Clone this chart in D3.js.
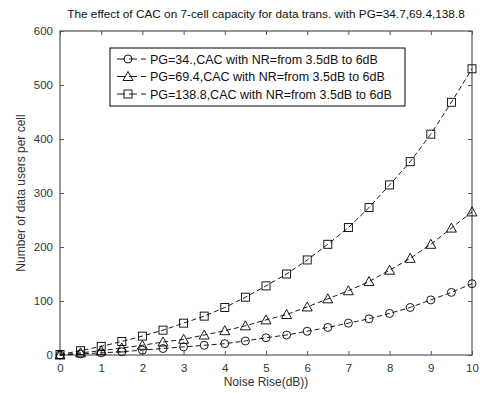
<!DOCTYPE html>
<html><head><meta charset="utf-8">
<script src="https://cdn.jsdelivr.net/npm/d3@7"></script>
<style>body{margin:0;background:#fff;} svg{display:block;} text{font-family:"Liberation Sans",Arial,sans-serif;}</style>
</head><body>
<svg id="c" width="480" height="393"></svg>
<script>
const noiseRise = [0,0.5,1,1.5,2,2.5,3,3.5,4,4.5,5,5.5,6,6.5,7,7.5,8,8.5,9,9.5,10];
const pg34 = [0,2,4,6,9,12,15,18,21,26,32,37,44,51,59,67,77,88,102,116,132];
const pg69 = [0,4,8,13,18,24,29,37,45,54,65,75,89,104,119,136,157,179,205,235,265];
const pg138 = [1,8,16,25,35,46,59,72,88,107,128,150,176,205,236,273,315,358,409,468,530];
const xTicks = [0,1,2,3,4,5,6,7,8,9,10];
const yTicks = [0,100,200,300,400,500,600];
const seriesNames = ["PG=34.,CAC with NR=from 3.5dB to 6dB","PG=69.4,CAC with NR=from 3.5dB to 6dB","PG=138.8,CAC with NR=from 3.5dB to 6dB"];
const markers = ["circle","triangle","square"];
const titleText = "The effect of CAC on 7-cell capacity for data trans. with PG=34.7,69.4,138.8";
const xLabel = "Noise Rise(dB))";
const yLabel = "Number of data users per cell";

const svg = d3.select("#c");
const L=60,R=472,T=31,B=355;
const x = d3.scaleLinear().domain([0,10]).range([L,R]);
const y = d3.scaleLinear().domain([0,600]).range([B,T]);
const axisCol = "#555";

// box
svg.append("rect").attr("x",L).attr("y",T).attr("width",R-L).attr("height",B-T)
  .attr("fill","none").attr("stroke",axisCol).attr("stroke-width",1.2);

// axes with inward ticks
const gx = svg.append("g").attr("transform",`translate(0,${B})`)
  .call(d3.axisBottom(x).tickValues(xTicks).tickSize(-4).tickPadding(9).tickFormat(d3.format("d")));
const gxt = svg.append("g").attr("transform",`translate(0,${T})`)
  .call(d3.axisTop(x).tickValues(xTicks).tickSize(-4).tickFormat(""));
const gy = svg.append("g").attr("transform",`translate(${L},0)`)
  .call(d3.axisLeft(y).tickValues(yTicks).tickSize(-4).tickPadding(7).tickFormat(d3.format("d")));
const gyr = svg.append("g").attr("transform",`translate(${R},0)`)
  .call(d3.axisRight(y).tickValues(yTicks).tickSize(-4).tickFormat(""));
[gx,gxt,gy,gyr].forEach(g=>{
  g.select(".domain").remove();
  g.selectAll("line").attr("stroke",axisCol);
  g.selectAll("text").attr("fill","#333").style("font-size","11.5px");
});

// series
const allSeries = [pg34,pg69,pg138];
const line = d3.line().x((d,i)=>x(noiseRise[i])).y(d=>y(d));
function drawMarker(g,type,cx,cy){
  if(type==="circle") g.append("circle").attr("cx",cx).attr("cy",cy).attr("r",4);
  else if(type==="triangle") g.append("path").attr("d",`M${cx},${cy-5}L${cx+5},${cy+4}L${cx-5},${cy+4}Z`);
  else g.append("rect").attr("x",cx-4).attr("y",cy-4).attr("width",8).attr("height",8);
}
allSeries.forEach((s,k)=>{
  svg.append("path").datum(s).attr("d",line).attr("fill","none").attr("stroke","#000")
    .attr("stroke-width",0.9).attr("stroke-dasharray","5,3");
  const g = svg.append("g").attr("fill","none").attr("stroke","#000").attr("stroke-width",0.9);
  s.forEach((v,i)=>drawMarker(g,markers[k],x(noiseRise[i]),y(v)));
});

// legend
const lg = svg.append("g");
lg.append("rect").attr("x",110).attr("y",48).attr("width",295).attr("height",58)
  .attr("fill","#fff").attr("stroke","#000").attr("stroke-width",1);
seriesNames.forEach((n,k)=>{
  const yy = 59 + k*17.5;
  lg.append("line").attr("x1",117).attr("x2",146).attr("y1",yy).attr("y2",yy)
    .attr("stroke","#000").attr("stroke-width",0.9).attr("stroke-dasharray","8,4");
  const mg = lg.append("g").attr("fill","none").attr("stroke","#000").attr("stroke-width",0.9);
  drawMarker(mg,markers[k],128,yy);
  lg.append("text").attr("x",150).attr("y",yy+4.5).text(n).style("font-size","12.5px").attr("fill","#111");
});

// title & labels
svg.append("text").attr("x",(L+R)/2).attr("y",18).attr("text-anchor","middle")
  .style("font-size","11.8px").attr("fill","#111").text(titleText);
svg.append("text").attr("x",(L+R)/2).attr("y",386).attr("text-anchor","middle")
  .style("font-size","12px").attr("fill","#333").text(xLabel);
svg.append("text").attr("transform",`translate(25,${(T+B)/2}) rotate(-90)`).attr("text-anchor","middle")
  .style("font-size","12px").attr("fill","#333").text(yLabel);
</script>
</body></html>
